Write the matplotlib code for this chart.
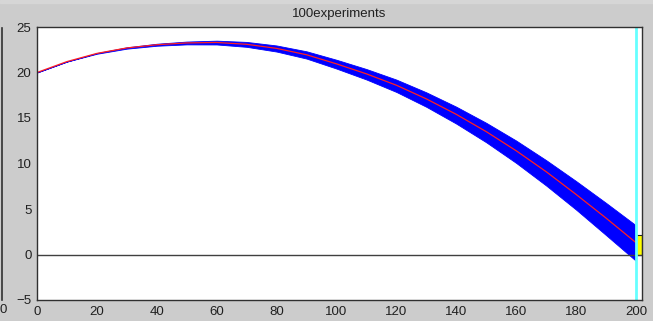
import numpy as np
import matplotlib as mpl
mpl.use('Agg')
import matplotlib.pyplot as plt
from matplotlib.lines import Line2D
from matplotlib.patches import Rectangle

# distance sampled every 10 units
dist = [0, 10, 20, 30, 40, 50, 60, 70, 80, 90, 100,
        110, 120, 130, 140, 150, 160, 170, 180, 190, 200]
# mean height of the 100 runs (red)
mean_h = [20.0, 21.2, 22.1, 22.7, 23.05, 23.25, 23.3, 23.1, 22.65, 21.95, 20.95,
          19.85, 18.6, 17.1, 15.4, 13.5, 11.4, 9.1, 6.6, 4.0, 1.3]
# upper / lower edge of the blue bundle
upper_h = [20.0, 21.2, 22.14, 22.77, 23.16, 23.4, 23.5, 23.36, 22.97, 22.33, 21.4,
           20.38, 19.22, 17.82, 16.24, 14.47, 12.52, 10.37, 8.07, 5.67, 3.2]
lower_h = [20.0, 21.2, 22.06, 22.62, 22.94, 23.09, 23.08, 22.82, 22.3, 21.53, 20.43,
           19.23, 17.86, 16.23, 14.38, 12.33, 10.06, 7.58, 4.93, 2.13, -0.7]
# final-position bar at the right edge
bar_x = 200
bar_h = 2.1

fs = 9.5
fig = plt.figure(figsize=(6.53, 3.21), dpi=100, facecolor='#cccccc')
ax = fig.add_axes([37 / 653, 21 / 321, 605 / 653, 273 / 321])

# lighter strip at the very top of the window
fig.patches.append(Rectangle((0, 1 - 3 / 321), 1, 3 / 321, transform=fig.transFigure,
                             color='#d6d6d6', zorder=0))
# edge of a neighbouring plot, cut off on the left
fig.add_artist(Line2D([1.5 / 653, 1.5 / 653], [21 / 321, 293 / 321], color='#303030', lw=1.2))
fig.text(0, 5 / 321, '0', fontsize=fs, family='Liberation Sans', ha='left',
         va='bottom', color='#202020')

ax.fill_between(dist, lower_h, upper_h, facecolor='#0000ff', edgecolor='#0000ff', lw=0.6)
ax.plot(dist, mean_h, color='#ff2020', lw=0.9)

ax.axhline(0, color='#404040', lw=1)
ax.axvline(200, color='#66ffff', lw=2)
ax.bar(bar_x, bar_h, width=2, align='edge', color='#ffff00', edgecolor='#202020', lw=0.8)

ax.set_xlim(0, 202)
ax.set_ylim(-5, 25)
ax.set_xticks(range(0, 201, 20))
ax.set_yticks(range(-5, 26, 5))
ax.tick_params(length=0, labelsize=fs, colors='#202020')
ax.tick_params(axis='x', pad=4)
ax.tick_params(axis='y', pad=4)
for lab in ax.get_xticklabels() + ax.get_yticklabels():
    lab.set_family('Liberation Sans')
for s in ax.spines.values():
    s.set_color('#303030')
    s.set_linewidth(1)

ax.set_title('100experiments', fontsize=fs, family='Liberation Sans', pad=7, color='#202020')

plt.savefig('out.png', dpi=100, facecolor=fig.get_facecolor())
